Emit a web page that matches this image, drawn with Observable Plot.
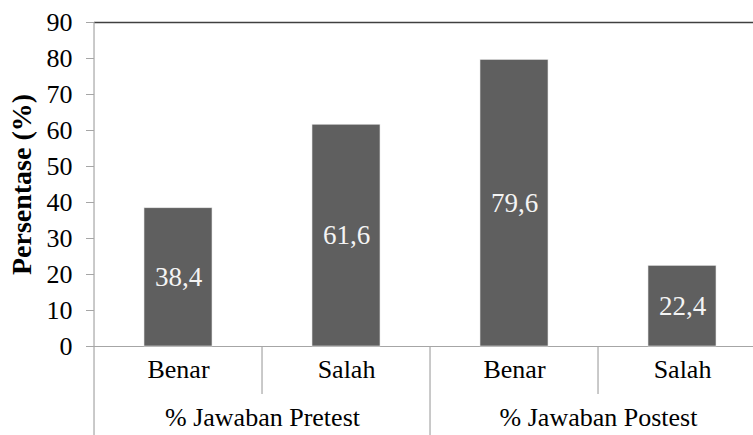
<!DOCTYPE html>
<html>
<head>
<meta charset="utf-8">
<script src="https://cdn.jsdelivr.net/npm/d3@7"></script>
<script src="https://cdn.jsdelivr.net/npm/@observablehq/plot@0.6"></script>
<style>
  html, body { margin: 0; padding: 0; background: #fff; }
  #chart { width: 753px; height: 435px; overflow: hidden; }
  #chart svg { max-width: none !important; width: 800px; height: 435px; }
</style>
</head>
<body>
<div id="chart"></div>
<script>
const groups = ["% Jawaban Pretest", "% Jawaban Postest"];
const categories = ["Benar", "Salah", "Benar", "Salah"];
const categoryGroup = [0, 0, 1, 1];
const values = [38.4, 61.6, 79.6, 22.4];
const valueLabels = ["38,4", "61,6", "79,6", "22,4"];
const yTicks = [0, 10, 20, 30, 40, 50, 60, 70, 80, 90];
const yTitle = "Persentase (%)";

const rows = categories.map((c, i) => ({
  key: groups[categoryGroup[i]] + "|" + c,
  category: c,
  group: groups[categoryGroup[i]],
  value: values[i],
  label: valueLabels[i]
}));
const keys = rows.map(d => d.key);
const groupRows = groups.map(g => ({group: g, first: rows.find(r => r.group === g).key}));

const W = 800, H = 435, ML = 94, MR = 34, MT = 22, MB = 89;
const step = (W - ML - MR) / keys.length;
const font = "Liberation Serif";

const chart = Plot.plot({
  width: W,
  height: H,
  marginLeft: ML,
  marginRight: MR,
  marginTop: MT,
  marginBottom: MB,
  style: {fontFamily: font, fontSize: "26px", background: "#fff", color: "#000", maxWidth: "none"},
  x: {type: "band", domain: keys, paddingInner: 0.595, paddingOuter: 0.2975, axis: null},
  y: {domain: [0, 90], axis: null},
  marks: [
    Plot.ruleY([90], {stroke: "#404040", strokeWidth: 1.6}),
    Plot.ruleY([0], {stroke: "#a6a6a6", strokeWidth: 1.2}),
    Plot.axisY({ticks: yTicks, tickSize: 8, tickPadding: 14, label: null, stroke: "#a6a6a6", fill: "#000", fontSize: 26, fontFamily: font, tickFormat: d => String(d)}),
    Plot.barY(rows, {x: "key", y: "value", fill: "#5f5f5f", stroke: "#e6e6e6", strokeWidth: 0.6}),
    Plot.text(rows, {x: "key", y: d => d.value / 2, text: "label", fill: "#f4f4f4", fontSize: 27, fontFamily: font}),
    Plot.text(rows, {x: "key", text: "category", frameAnchor: "bottom", dy: 31, fill: "#000", fontSize: 26, fontFamily: font}),
    Plot.text(groupRows, {x: "first", text: "group", frameAnchor: "bottom", dy: 79, dx: step / 2, fill: "#000", fontSize: 26, fontFamily: font}),
    Plot.text([yTitle], {frameAnchor: "left", textAnchor: "middle", rotate: -90, dx: -72, fontWeight: "bold", fontSize: 28, fill: "#000", fontFamily: font})
  ]
});

// dividers and left axis line, positioned through the plot's scales
const xs = chart.scale("x");
const ys = chart.scale("y");
const svgNode = chart.tagName.toLowerCase() === "svg" ? chart : chart.querySelector("svg");
const svg = d3.select(svgNode);
svg.style("max-width", "none");
const y0 = ys.apply(0);
const yTop = ys.apply(90);
const boundaries = keys.map(k => xs.apply(k) - step * 0.595 / 2);
boundaries.push(boundaries[boundaries.length - 1] + step);
const g = svg.append("g").attr("stroke", "#a6a6a6").attr("stroke-width", 1.2);
boundaries.forEach((bx, i) => {
  const isGroupEdge = i === 0 || i === boundaries.length - 1 || categoryGroup[i] !== categoryGroup[i - 1];
  g.append("line")
    .attr("x1", bx).attr("x2", bx)
    .attr("y1", i === 0 ? yTop : y0)
    .attr("y2", isGroupEdge ? H : y0 + 48);
});

document.getElementById("chart").appendChild(chart);
</script>
</body>
</html>
